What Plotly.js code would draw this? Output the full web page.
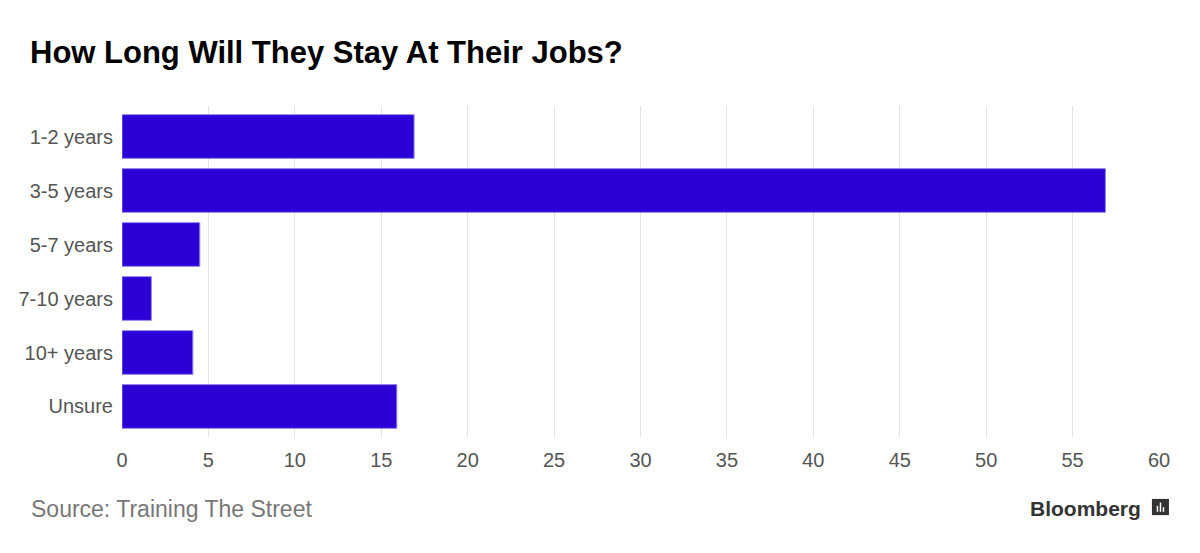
<!DOCTYPE html>
<html><head><meta charset="utf-8">
<script src="https://cdn.plot.ly/plotly-3.0.1.min.js"></script>
<style>html,body{margin:0;padding:0;background:#fff;}#chart{width:1200px;height:553px;}</style>
</head><body><div id="chart"></div>
<script>
const categories = ["1-2 years","3-5 years","5-7 years","7-10 years","10+ years","Unsure"];
const values = [16.9, 56.9, 4.5, 1.7, 4.1, 15.9];
const tickVals = [0,5,10,15,20,25,30,35,40,45,50,55,60];

const trace = {
  type: 'bar', orientation: 'h',
  x: values, y: categories,
  marker: {color: '#2b00d6', line: {color: '#9384ec', width: 1}},
  width: 0.81,
  hoverinfo: 'x+y'
};
const F = 'Liberation Sans, Arial, sans-serif';
const layout = {
  width: 1200, height: 553,
  margin: {l: 122, r: 41, t: 106, b: 116},
  paper_bgcolor: '#fff', plot_bgcolor: '#fff',
  showlegend: false,
  title: {text: 'How Long Will They Stay At Their Jobs?', x: 0.025, xanchor: 'left', y: 0.905, yanchor: 'middle',
          font: {family: F, size: 31, color: '#000', weight: 'bold'}},
  xaxis: {range: [0, 60], tickvals: tickVals, showgrid: true, gridcolor: '#e3e3e3', gridwidth: 1,
          zeroline: false, showline: false, ticks: 'outside', ticklen: 5, tickcolor: 'rgba(0,0,0,0)',
          tickfont: {family: F, size: 20, color: '#555'}},
  yaxis: {categoryorder: 'array', categoryarray: categories, range: [5.565, -0.565],
          showgrid: false, zeroline: false, showline: false, ticks: 'outside', ticklen: 4, tickcolor: 'rgba(0,0,0,0)',
          tickfont: {family: F, size: 20, color: '#555'}},
  annotations: [
    {xref: 'paper', yref: 'paper', x: -0.09, y: -0.2175, xanchor: 'left', yanchor: 'middle', showarrow: false,
     text: 'Source: Training The Street', font: {family: F, size: 23, color: '#777'}},
    {xref: 'paper', yref: 'paper', x: 0.985, y: -0.2175, xanchor: 'right', yanchor: 'middle', showarrow: false,
     text: '<b>Bloomberg</b>', font: {family: F, size: 21, color: '#333'}}
  ],
  shapes: [
    {type: 'rect', xref: 'paper', yref: 'paper', x0: 0.9932, x1: 1.0096, y0: -0.236, y1: -0.187,
     fillcolor: '#333', line: {width: 0}},
    {type: 'rect', xref: 'paper', yref: 'paper', x0: 0.9978, x1: 0.9992, y0: -0.226, y1: -0.208, fillcolor: '#fff', line: {width: 0}},
    {type: 'rect', xref: 'paper', yref: 'paper', x0: 1.0007, x1: 1.0021, y0: -0.226, y1: -0.198, fillcolor: '#fff', line: {width: 0}},
    {type: 'rect', xref: 'paper', yref: 'paper', x0: 1.0036, x1: 1.005, y0: -0.226, y1: -0.212, fillcolor: '#fff', line: {width: 0}}
  ]
};
Plotly.newPlot('chart', [trace], layout, {displayModeBar: false, staticPlot: true});
</script></body></html>
